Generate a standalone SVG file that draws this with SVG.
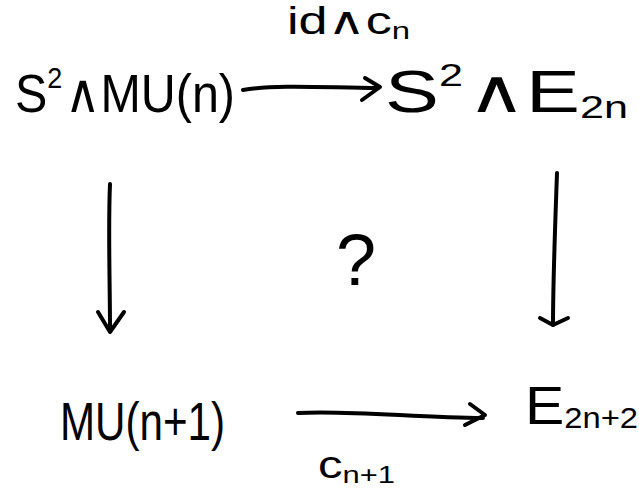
<svg xmlns="http://www.w3.org/2000/svg" width="639" height="488" viewBox="0 0 639 488">
<style>
.t{font-family:"Liberation Sans","DejaVu Sans",sans-serif;fill:#000}
.big{font-size:54px}
.lab{font-size:38px}
.a{fill:none;stroke:#000;stroke-width:4;stroke-linecap:round;stroke-linejoin:round}
</style>
<rect width="639" height="488" fill="#fff"/>
<g id="n1"><text class="t big" x="15" y="112" textLength="220" lengthAdjust="spacingAndGlyphs">S<tspan font-size="30" dy="-24">2</tspan><tspan dy="24" dx="3">∧MU(n)</tspan></text></g>
<g id="n2"><text class="t" font-size="60" x="385" y="112" textLength="243" lengthAdjust="spacingAndGlyphs">S<tspan font-size="32" dy="-26">2</tspan><tspan dy="26" dx="3">∧E</tspan><tspan font-size="32" dy="6">2n</tspan></text></g>
<g id="n3"><text class="t big" x="60" y="440" textLength="165" lengthAdjust="spacingAndGlyphs">MU(n+1)</text></g>
<g id="n4"><text class="t big" x="525" y="424" textLength="113" lengthAdjust="spacingAndGlyphs">E<tspan font-size="30" dy="4">2n+2</tspan></text></g>
<g id="q"><text class="t" x="356" y="285" font-size="72" text-anchor="middle">?</text></g>
<g id="connectors">
<path class="a" d="M243,90 C280,84 330,88 378,88"/>
<path class="a" d="M365,78 L380,87 L362,100"/>
<path class="a" d="M298,413 C350,410 420,418 483,418"/>
<path class="a" d="M470,404 L485,415 L465,425"/>
<path class="a" d="M110,184 C108,230 110,280 110,330"/>
<path class="a" d="M98,312 L110,332 L124,312"/>
<path class="a" d="M557,173 C555,230 553,280 553,325"/>
<path class="a" d="M540,318 L553,325 L568,318"/>
<text class="t lab" x="287" y="34" textLength="123" lengthAdjust="spacingAndGlyphs">id∧c<tspan font-size="24" dy="5">n</tspan></text>
<text class="t lab" x="318" y="478" textLength="77" lengthAdjust="spacingAndGlyphs">c<tspan font-size="24" dy="5">n+1</tspan></text>
</g>
</svg>
